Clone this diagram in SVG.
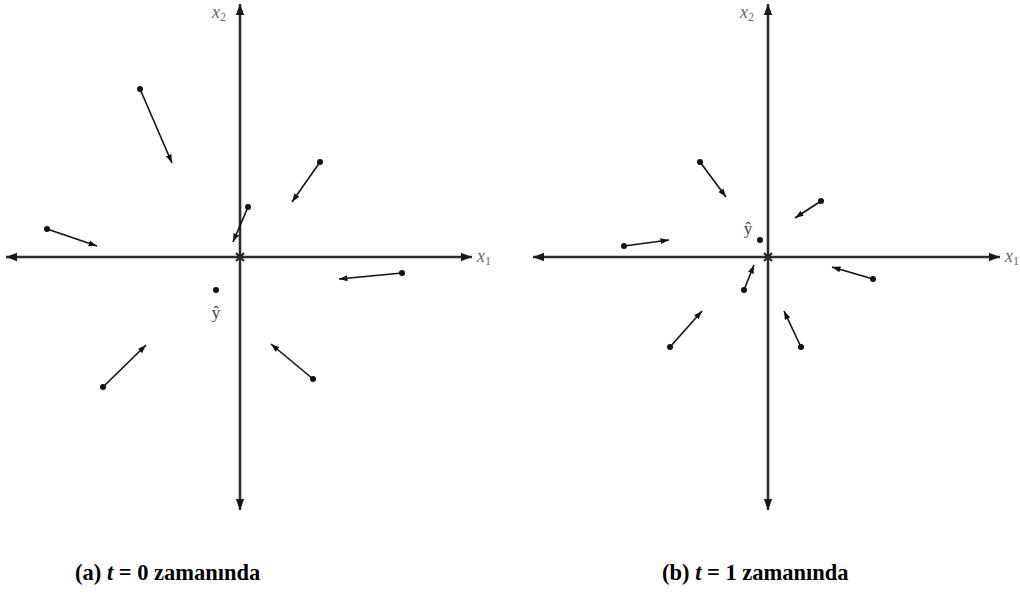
<svg xmlns="http://www.w3.org/2000/svg" width="1020" height="597" viewBox="0 0 1020 597">
<style>
.axis{stroke:#2e2e2e;stroke-width:2.6;fill:none}
.vec{stroke:#111;stroke-width:1.6;fill:none}
.dot{fill:#111}
.lbl{font-family:"Liberation Serif",serif;font-style:italic;fill:#666;font-size:18px}
.sub{font-size:12px;font-style:normal}
.yhat{font-family:"Liberation Serif",serif;fill:#444;font-size:17px}
.cap{font-family:"Liberation Serif",serif;font-weight:bold;font-size:22.5px;fill:#000}
.ctr{stroke:#222;stroke-width:2}
</style>
<defs>
<marker id="ah" markerUnits="userSpaceOnUse" markerWidth="12" markerHeight="10" refX="11" refY="5" orient="auto">
<path d="M0,0.8 L11,5 L0,9.2 Z" fill="#1a1a1a"/>
</marker>
<marker id="vh" markerUnits="userSpaceOnUse" markerWidth="9" markerHeight="7" refX="8.5" refY="3.5" orient="auto">
<path d="M0,0.5 L8.5,3.5 L0,6.5 Z" fill="#111"/>
</marker>
</defs>
<g id="panel-a">
<g id="axes-a">
<line class="axis" x1="240" y1="257" x2="472" y2="257" marker-end="url(#ah)"/>
<line class="axis" x1="240" y1="257" x2="6" y2="257" marker-end="url(#ah)"/>
<line class="axis" x1="240" y1="257" x2="240" y2="4" marker-end="url(#ah)"/>
<line class="axis" x1="240" y1="257" x2="240" y2="510" marker-end="url(#ah)"/>
<line class="ctr" x1="236" y1="253" x2="244" y2="261"/>
<line class="ctr" x1="244" y1="253" x2="236" y2="261"/>
<text class="lbl" x="212" y="18">x<tspan class="sub" dy="3">2</tspan></text>
<text class="lbl" x="477" y="262">x<tspan class="sub" dy="3">1</tspan></text>
</g>
<g id="vectors-a">
<line class="vec" x1="140" y1="89" x2="172" y2="163" marker-end="url(#vh)"/><circle class="dot" cx="140" cy="89" r="3"/>
<line class="vec" x1="320" y1="162" x2="292" y2="202" marker-end="url(#vh)"/><circle class="dot" cx="320" cy="162" r="3"/>
<line class="vec" x1="248" y1="207" x2="233" y2="242" marker-end="url(#vh)"/><circle class="dot" cx="248" cy="207" r="3"/>
<line class="vec" x1="47" y1="229" x2="97" y2="246" marker-end="url(#vh)"/><circle class="dot" cx="47" cy="229" r="3"/>
<line class="vec" x1="402" y1="273" x2="339" y2="279" marker-end="url(#vh)"/><circle class="dot" cx="402" cy="273" r="3"/>
<line class="vec" x1="103" y1="387" x2="146" y2="345" marker-end="url(#vh)"/><circle class="dot" cx="103" cy="387" r="3"/>
<line class="vec" x1="313" y1="379" x2="271" y2="344" marker-end="url(#vh)"/><circle class="dot" cx="313" cy="379" r="3"/>
</g>
<g id="yhat-a">
<circle class="dot" cx="216" cy="290" r="3"/>
<text class="yhat" x="216" y="318" text-anchor="middle">ŷ</text>
</g>
<text class="cap" x="75" y="580">(a) <tspan font-style="italic">t</tspan> = 0 zamanında</text>
</g>
<g id="panel-b">
<g id="axes-b">
<line class="axis" x1="768" y1="257" x2="1000" y2="257" marker-end="url(#ah)"/>
<line class="axis" x1="768" y1="257" x2="533" y2="257" marker-end="url(#ah)"/>
<line class="axis" x1="768" y1="257" x2="768" y2="4" marker-end="url(#ah)"/>
<line class="axis" x1="768" y1="257" x2="768" y2="510" marker-end="url(#ah)"/>
<line class="ctr" x1="764" y1="253" x2="772" y2="261"/>
<line class="ctr" x1="772" y1="253" x2="764" y2="261"/>
<text class="lbl" x="740" y="18">x<tspan class="sub" dy="3">2</tspan></text>
<text class="lbl" x="1005" y="262">x<tspan class="sub" dy="3">1</tspan></text>
</g>
<g id="vectors-b">
<line class="vec" x1="700" y1="162" x2="726" y2="197" marker-end="url(#vh)"/><circle class="dot" cx="700" cy="162" r="3"/>
<line class="vec" x1="821" y1="201" x2="795" y2="218" marker-end="url(#vh)"/><circle class="dot" cx="821" cy="201" r="3"/>
<line class="vec" x1="624" y1="246" x2="669" y2="240" marker-end="url(#vh)"/><circle class="dot" cx="624" cy="246" r="3"/>
<line class="vec" x1="744" y1="290" x2="754" y2="265" marker-end="url(#vh)"/><circle class="dot" cx="744" cy="290" r="3"/>
<line class="vec" x1="873" y1="279" x2="832" y2="267" marker-end="url(#vh)"/><circle class="dot" cx="873" cy="279" r="3"/>
<line class="vec" x1="670" y1="347" x2="702" y2="311" marker-end="url(#vh)"/><circle class="dot" cx="670" cy="347" r="3"/>
<line class="vec" x1="801" y1="347" x2="784" y2="311" marker-end="url(#vh)"/><circle class="dot" cx="801" cy="347" r="3"/>
</g>
<g id="yhat-b">
<circle class="dot" cx="760" cy="240" r="3"/>
<text class="yhat" x="748" y="234" text-anchor="middle">ŷ</text>
</g>
<text class="cap" x="662" y="580">(b) <tspan font-style="italic">t</tspan> = 1 zamanında</text>
</g>
</svg>
